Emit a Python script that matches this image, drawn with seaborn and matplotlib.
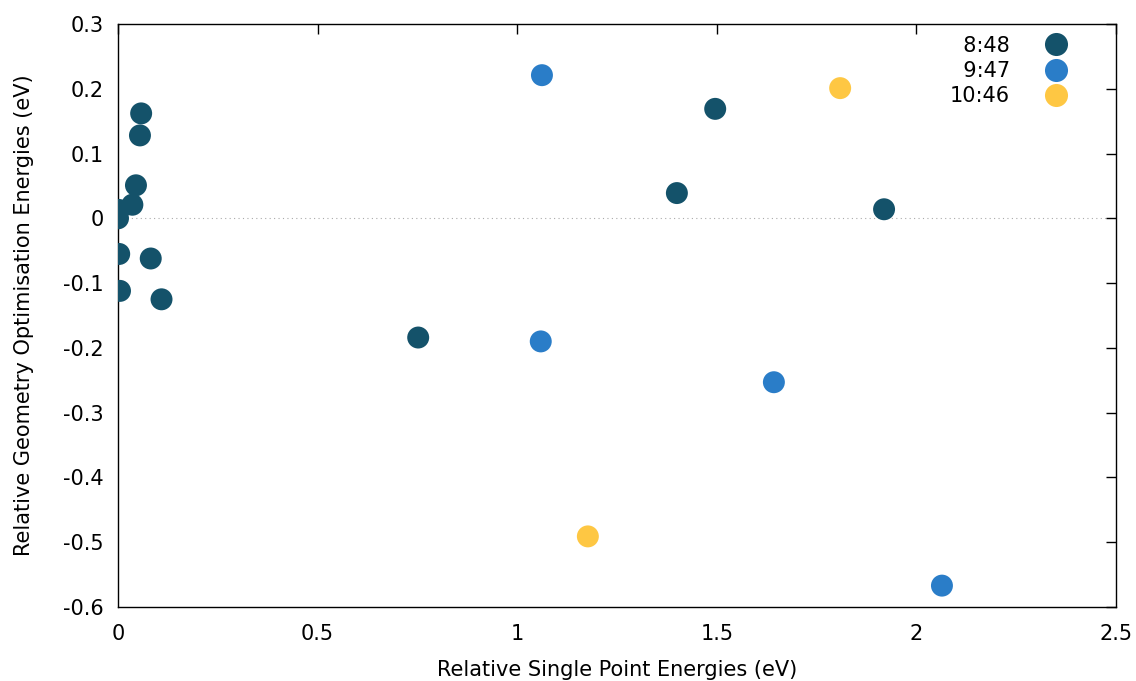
import matplotlib
matplotlib.use("Agg")
import matplotlib.pyplot as plt
import seaborn as sns
import pandas as pd
from matplotlib.ticker import FuncFormatter, MultipleLocator

# Data
x_848 = [0.0, 0.002, 0.058, 0.055, 0.045, 0.036, 0.003, 0.082, 0.005, 0.109, 0.752, 1.400, 1.496, 1.919]
y_848 = [0.0, 0.013, 0.162, 0.128, 0.051, 0.021, -0.055, -0.062, -0.112, -0.125, -0.184, 0.039, 0.169, 0.014]
x_947 = [1.062, 1.059, 1.643, 2.064]
y_947 = [0.221, -0.190, -0.253, -0.567]
x_1046 = [1.809, 1.177]
y_1046 = [0.201, -0.491]
series_labels = ["8:48", "9:47", "10:46"]
colors = ["#14526a", "#2a7dc8", "#fec743"]

df = pd.concat([
    pd.DataFrame({"x": x_848, "y": y_848, "series": series_labels[0]}),
    pd.DataFrame({"x": x_947, "y": y_947, "series": series_labels[1]}),
    pd.DataFrame({"x": x_1046, "y": y_1046, "series": series_labels[2]}),
])

sns.set_style("white")
plt.rcParams["font.family"] = ["DejaVu Sans"]
plt.rcParams["axes.unicode_minus"] = False
for k in ["text.color", "axes.labelcolor", "xtick.color", "ytick.color"]:
    plt.rcParams[k] = "black"

fig = plt.figure(figsize=(11.36, 6.81), dpi=100)
ax = fig.add_axes([118/1136, 1 - 607/681, (1116-118)/1136, (607-24)/681])

ax.axhline(0, color="#aaaaaa", lw=0.8, ls=(0, (1, 3)), zorder=0)

sns.scatterplot(data=df, x="x", y="y", hue="series", palette=colors,
                hue_order=series_labels, s=250, linewidth=0, ax=ax, zorder=3)

ax.set_xlim(0, 2.5)
ax.set_ylim(-0.6, 0.3)
ax.xaxis.set_major_locator(MultipleLocator(0.5))
ax.yaxis.set_major_locator(MultipleLocator(0.1))
fmt = FuncFormatter(lambda v, p: "%g" % round(v, 6))
ax.xaxis.set_major_formatter(fmt)
ax.yaxis.set_major_formatter(fmt)
ax.tick_params(direction="in", length=7, width=1, top=True, right=True,
               labelsize=15, color="black")
ax.tick_params(axis="y", pad=10)
ax.tick_params(axis="x", pad=12)
for sp in ax.spines.values():
    sp.set_visible(True)
    sp.set_color("black")
    sp.set_linewidth(1)

ax.set_xlabel("Relative Single Point Energies (eV)", fontsize=15, labelpad=12)
ax.set_ylabel("Relative Geometry Optimisation Energies (eV)", fontsize=15, labelpad=21)

handles, labels = ax.get_legend_handles_labels()
maxlen = max(len(l) for l in labels)
labels = ["\u2007" * (maxlen - len(l)) + l for l in labels]
leg = ax.legend(handles, labels, loc="upper right", frameon=False, markerfirst=False,
                fontsize=15, handletextpad=1.22, labelspacing=0.25,
                bbox_to_anchor=(0.98, 1.012), borderaxespad=0.5, markerscale=1.05)

fig.savefig("out.png", dpi=100)
